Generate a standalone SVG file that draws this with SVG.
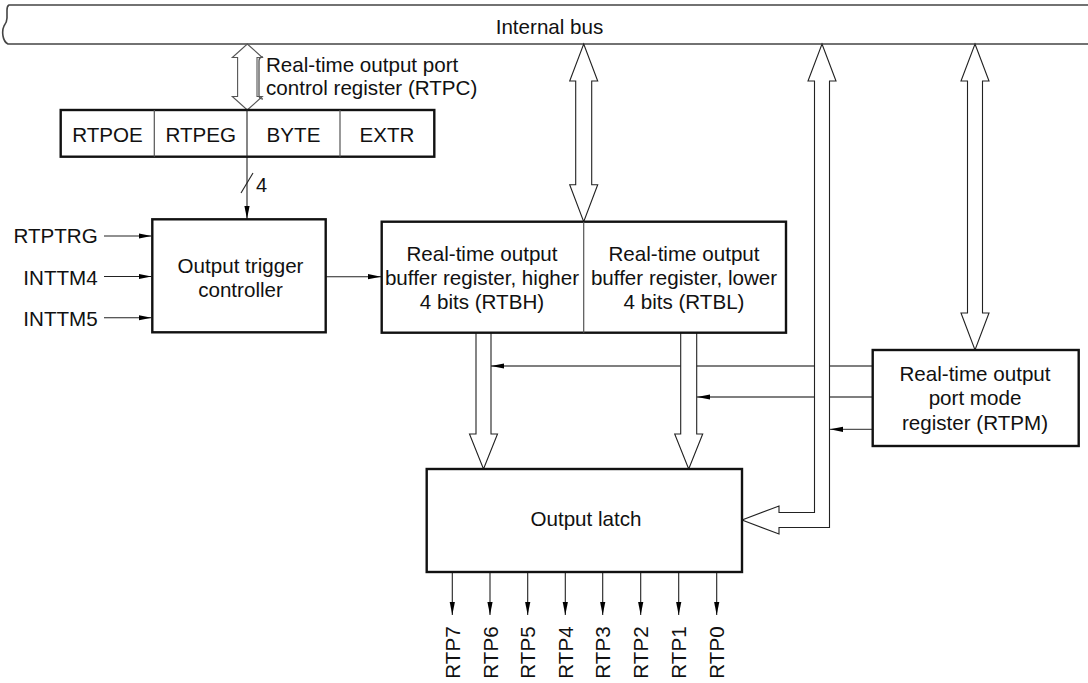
<svg xmlns="http://www.w3.org/2000/svg" width="1088" height="683" viewBox="0 0 1088 683">
<defs>
<style>
.t{font-family:"Liberation Sans",Arial,Helvetica,sans-serif;font-size:20.6px;fill:#111}
.m{text-anchor:middle}
.e{text-anchor:end}
.box{fill:#fff;stroke:#111;stroke-width:2.4}
.div{stroke:#555;stroke-width:1.2;fill:none}
.fat{fill:#fff;stroke:#222;stroke-width:1.1;stroke-linejoin:miter}
.ln{stroke:#222;stroke-width:1.1;fill:none}
.gl{stroke:#555;stroke-width:1.3;fill:none}
.bus{fill:#fff;stroke:#444;stroke-width:1.6}
</style>
<marker id="ah" viewBox="0 0 13 6" refX="13" refY="3" markerWidth="13" markerHeight="6" markerUnits="userSpaceOnUse" orient="auto"><path d="M0,0.4 L13,3 L0,5.6 z" fill="#000"/></marker>
</defs>
<rect width="1088" height="683" fill="#fff"/>

<g id="bus">
<path class="bus" d="M1092,5 H9 Q7,6 7,10 L7,18 Q7,22 4,26 Q2,30 3,36 Q4,42 8,44 H1092"/>
<text class="t m" x="549.5" y="34">Internal bus</text>
</g>

<g id="connectors">
<!-- RTPC double arrow -->
<polygon class="fat" style="stroke:#555" points="247.3,44 262.3,57.5 257,57.5 257,96.5 262.3,96.5 247.3,110 232.3,96.5 237.6,96.5 237.6,57.5 232.3,57.5"/>
<path class="gl" d="M263,57 Q259,57 259,61 L259,95 Q259,99 263,99"/>
<text class="t" x="266" y="72">Real-time output port</text>
<text class="t" x="266" y="95">control register (RTPC)</text>
<!-- 4-bit control line -->
<path class="ln" d="M247,157 V219" marker-end="url(#ah)"/>
<path class="ln" d="M241,193 L253,173"/>
<text class="t" x="256" y="191.5" style="font-size:20px">4</text>
<!-- trigger inputs -->
<path class="ln" d="M104,236 H151.5" marker-end="url(#ah)"/>
<path class="ln" d="M104,276.5 H151.5" marker-end="url(#ah)"/>
<path class="ln" d="M104,317.7 H151.5" marker-end="url(#ah)"/>
<!-- trigger to buffer -->
<path class="ln" d="M326,276.7 H381" marker-end="url(#ah)"/>
<!-- RTPM control lines -->
<path class="gl" d="M873,366 H491" marker-end="url(#ah)"/>
<path class="gl" d="M873,397 H697" marker-end="url(#ah)"/>
<path class="gl" d="M873,429.3 H830" marker-end="url(#ah)"/>
<!-- bus to RTBH/RTBL -->
<polygon class="fat" points="583.7,44 597.7,81 591.7,81 591.7,184.7 597.7,184.7 583.7,221.7 569.7,184.7 575.7,184.7 575.7,81 569.7,81"/>
<!-- bus to RTPM -->
<polygon class="fat" points="975,44 989,81 982.5,81 982.5,313 989,313 975,350 961,313 967.5,313 967.5,81 961,81"/>
<!-- bus to output latch -->
<polygon class="fat" points="822,44 836,81 829.5,81 829.5,527.5 779,527.5 779,534 742,520 779,506 779,512.5 814.5,512.5 814.5,81 808,81"/>
<!-- RTBH / RTBL to latch -->
<path class="fat" d="M476,333 V434 H469.5 L483.5,469 L497.5,434 H491 V333"/>
<path class="fat" d="M680.7,333 V434 H674.7 L688.7,469 L702.7,434 H696.7 V333"/>
<!-- outputs -->
<path class="ln" d="M452.3,573 V615" marker-end="url(#ah)"/>
<path class="ln" d="M490,573 V615" marker-end="url(#ah)"/>
<path class="ln" d="M527.7,573 V615" marker-end="url(#ah)"/>
<path class="ln" d="M565.3,573 V615" marker-end="url(#ah)"/>
<path class="ln" d="M602.7,573 V615" marker-end="url(#ah)"/>
<path class="ln" d="M640.7,573 V615" marker-end="url(#ah)"/>
<path class="ln" d="M678.7,573 V615" marker-end="url(#ah)"/>
<path class="ln" d="M716.7,573 V615" marker-end="url(#ah)"/>
</g>

<g id="rtpc">
<rect class="box" x="60.7" y="110" width="373.6" height="46.7"/>
<path class="div" d="M154.3,110 V156.7 M340,110 V156.7"/>
<path class="ln" d="M247,110 V156.7"/>
<text class="t m" x="107.5" y="141.5">RTPOE</text>
<text class="t m" x="200.7" y="141.5">RTPEG</text>
<text class="t m" x="293.5" y="141.5">BYTE</text>
<text class="t m" x="387" y="141.5">EXTR</text>
</g>

<g id="trigger">
<rect class="box" x="152.3" y="219.3" width="173.4" height="113"/>
<text class="t m" x="240.5" y="272.5">Output trigger</text>
<text class="t m" x="240.5" y="296.5">controller</text>
</g>

<g id="inputs">
<text class="t e" x="97.7" y="243.3">RTPTRG</text>
<text class="t e" x="97.7" y="284.5">INTTM4</text>
<text class="t e" x="97.7" y="325.7">INTTM5</text>
</g>

<g id="rtb">
<rect class="box" x="381.7" y="221.7" width="404.3" height="111"/>
<path class="div" d="M583.7,221.7 V332.7"/>
<text class="t m" x="482" y="261">Real-time output</text>
<text class="t m" x="482" y="285">buffer register, higher</text>
<text class="t m" x="482" y="309">4 bits (RTBH)</text>
<text class="t m" x="684" y="261">Real-time output</text>
<text class="t m" x="684" y="285">buffer register, lower</text>
<text class="t m" x="684" y="309">4 bits (RTBL)</text>
</g>

<g id="rtpm">
<rect class="box" x="872.7" y="350" width="206" height="96"/>
<text class="t m" x="975" y="380.5">Real-time output</text>
<text class="t m" x="975" y="405">port mode</text>
<text class="t m" x="975" y="429.5">register (RTPM)</text>
</g>

<g id="latch">
<rect class="box" x="426.7" y="469" width="315.3" height="103"/>
<text class="t m" x="586" y="526">Output latch</text>
</g>

<g id="outputs">
<text class="t m" transform="translate(459.8,652.5) rotate(-90)">RTP7</text>
<text class="t m" transform="translate(497.5,652.5) rotate(-90)">RTP6</text>
<text class="t m" transform="translate(535.2,652.5) rotate(-90)">RTP5</text>
<text class="t m" transform="translate(572.8,652.5) rotate(-90)">RTP4</text>
<text class="t m" transform="translate(610.2,652.5) rotate(-90)">RTP3</text>
<text class="t m" transform="translate(648.2,652.5) rotate(-90)">RTP2</text>
<text class="t m" transform="translate(686.2,652.5) rotate(-90)">RTP1</text>
<text class="t m" transform="translate(724.2,652.5) rotate(-90)">RTP0</text>
</g>
</svg>
